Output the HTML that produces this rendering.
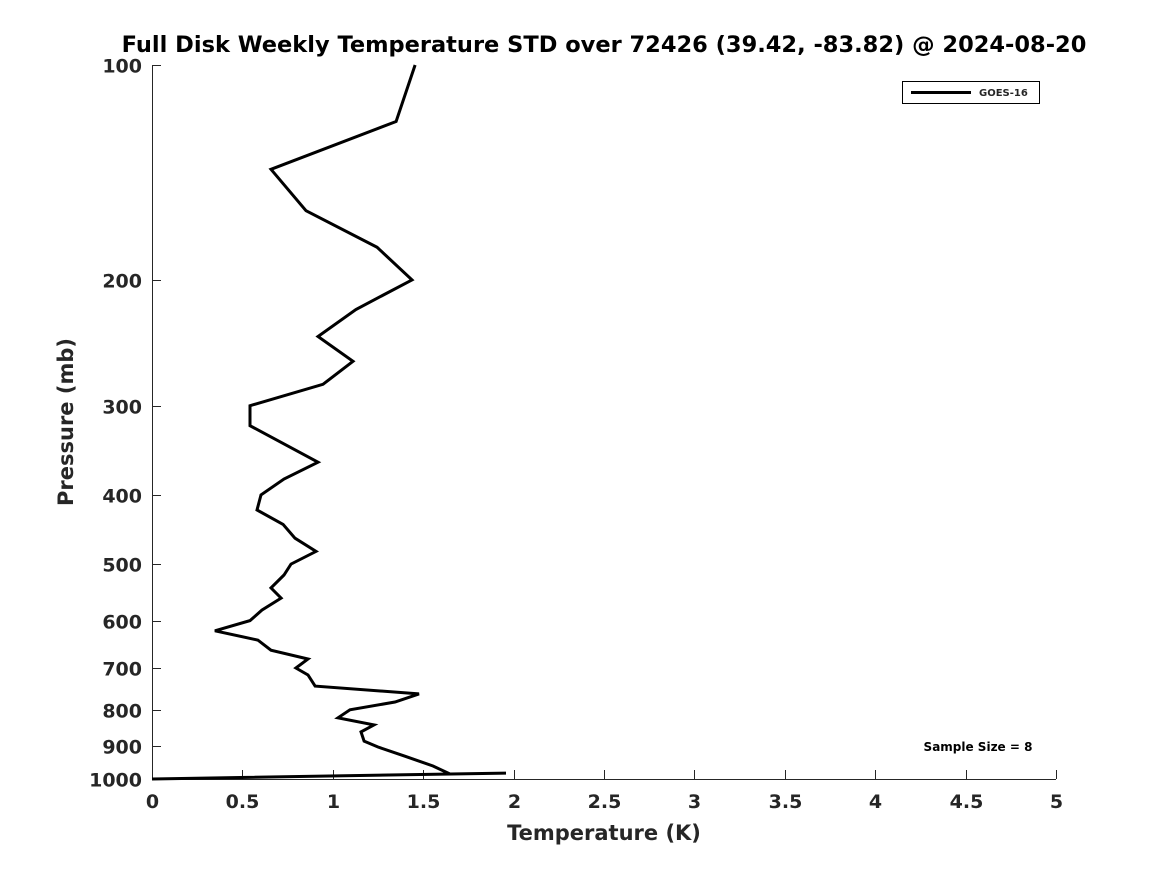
<!DOCTYPE html>
<html><head><meta charset="utf-8"><style>
body{margin:0;background:#fff;}
svg{display:block;font-family:"DejaVu Sans","Liberation Sans",sans-serif;font-weight:bold;}
</style></head><body>
<svg id="chart" width="1167" height="875" viewBox="0 0 1167 875">
<text x="604" y="52" text-anchor="middle" font-size="22.5" fill="#000">Full Disk Weekly Temperature STD over 72426 (39.42, -83.82) @ 2024-08-20</text>
<g id="axes"></g>
<g id="series"></g>
<g>
<rect x="902.5" y="81.5" width="137" height="22" fill="#fff" stroke="#000" stroke-width="1"/>
<line x1="911" y1="92.5" x2="971" y2="92.5" stroke="#000" stroke-width="3"/>
<text x="979" y="96" font-size="10" fill="#262626">GOES-16</text>
</g>
<text x="978" y="751" text-anchor="middle" font-size="12" fill="#000">Sample Size = 8</text>
<text x="604" y="840" text-anchor="middle" font-size="21" fill="#262626">Temperature (K)</text>
<text transform="translate(73,422) rotate(-90)" text-anchor="middle" font-size="21" fill="#262626">Pressure (mb)</text>
</svg>
<script>
const temps=[1.455,1.35,0.658,0.852,1.245,1.438,1.128,0.918,1.112,0.946,0.542,0.542,0.918,0.73,0.603,0.581,0.725,0.791,0.907,0.769,0.73,0.658,0.714,0.608,0.542,0.348,0.586,0.658,0.863,0.796,0.863,0.902,1.477,1.344,1.095,1.029,1.228,1.156,1.173,1.25,1.399,1.554,1.648,1.958,0];
const pressures=[100,120,140,160,180,200,220,240,260,280,300,320,360,380,400,420,440,460,480,500,518,540,558,580,600,620,639,660,679,699,715,741,760,780,800,821,840,859,885,902,929,959,984,981,1000];
const xTicks=[0,0.5,1,1.5,2,2.5,3,3.5,4,4.5,5];
const xTickLabels=["0","0.5","1","1.5","2","2.5","3","3.5","4","4.5","5"];
const yTicks=[100,200,300,400,500,600,700,800,900,1000];
const yTickLabels=["100","200","300","400","500","600","700","800","900","1000"];
const NS="http://www.w3.org/2000/svg";
const L=152,R=1056,T=65,B=779;
function xs(v){return L+(v-0)/(5-0)*(R-L);}
function ys(p){return T+(Math.log10(p)-2)/(1)*(B-T);}
const axes=document.getElementById('axes');
function mk(tag,attrs,parent){const e=document.createElementNS(NS,tag);for(const k in attrs)e.setAttribute(k,attrs[k]);parent.appendChild(e);return e;}
let a=mk('line',{x1:L,y1:B+0.5,x2:R,y2:B+0.5,stroke:'#262626','stroke-width':1},axes);


a=mk('line',{x1:L+0.5,y1:T,x2:L+0.5,y2:B,stroke:'#262626','stroke-width':1},axes);


xTicks.forEach((v,i)=>{
 const x=Math.round(xs(v))+0.5;
 const t=mk('line',{x1:x,y1:B,x2:x,y2:B-9,stroke:'#262626'},axes);
 
 
 const tx=mk('text',{x:x,y:808,'text-anchor':'middle','font-size':19,fill:'#262626'},axes);
 tx.textContent=xTickLabels[i];
 
 
});
yTicks.forEach((p,i)=>{
 const y=Math.round(ys(p))+0.5;
 const t=mk('line',{x1:L,y1:y,x2:L+9,y2:y,stroke:'#262626'},axes);
 
 
 const tx=mk('text',{x:142,y:y+7,'text-anchor':'end','font-size':19,fill:'#262626'},axes);
 tx.textContent=yTickLabels[i];
 
 
});
const pts=temps.map((t,i)=>xs(t).toFixed(1)+','+ys(pressures[i]).toFixed(1)).join(' ');
const line=mk('polyline',{points:pts,fill:'none',stroke:'#000','stroke-width':3,'stroke-linejoin':'miter'},document.getElementById('series'));


</script>
</body></html>
